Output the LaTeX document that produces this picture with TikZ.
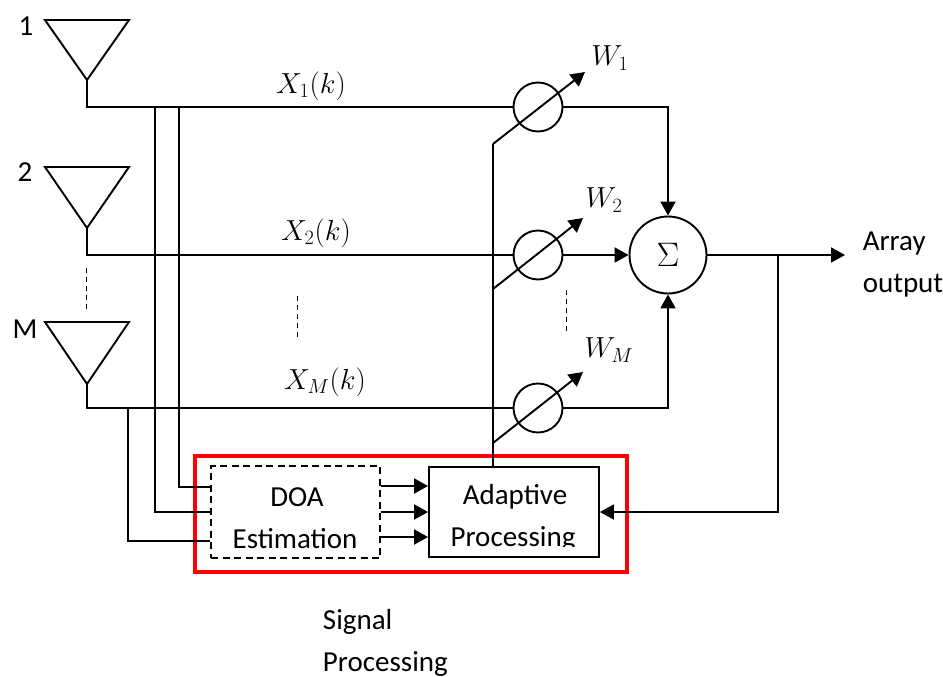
\RequirePackage{fix-cm}
\documentclass[tikz,border=0pt]{standalone}
\usepackage{fontspec}
\setmainfont{Carlito}
\usepackage{tikz}
\usetikzlibrary{arrows.meta}

\begin{document}
\begin{tikzpicture}[x=1pt,y=-1pt,line width=1.9pt,
  tip/.style={-{Triangle[length=14pt,width=15pt]}},
  weight/.style={draw,circle,minimum size=49pt,inner sep=0pt},
  lbl/.style={font=\fontsize{29}{42}\selectfont,inner sep=0pt},
  mathlbl/.style={font=\fontsize{29}{34}\selectfont,inner sep=0pt},
  dots/.style={dashed,line width=1pt,dash pattern=on 5pt off 4pt}]
\useasboundingbox (0,0) rectangle (943,677);

% antennas
\coordinate (a1) at (87,80);
\coordinate (a2) at (87,228);
\coordinate (aM) at (87,384);
\draw[line join=miter] (45,20) -- (129,20) -- (a1) -- cycle;
\draw[line join=miter] (45,167) -- (129,167) -- (a2) -- cycle;
\draw[line join=miter] (45,322) -- (129,322) -- (aM) -- cycle;
\node[lbl] (n1) at (26,26) {1};
\node[lbl] (n2) at (25,172) {2};
\node[lbl] (nM) at (25,329) {M};

% weights and sum
\node[weight] (w1) at (538,107) {};
\node[weight] (w2) at (538,255) {};
\node[weight] (wM) at (538,408) {};
\node[draw,circle,minimum size=77pt,inner sep=0pt,font=\fontsize{34}{40}\selectfont] (sum) at (668,255) {$\Sigma$};

% boxes
\node[draw,dashed,line width=1.4pt,dash pattern=on 7pt off 4.5pt,minimum width=169pt,minimum height=92pt,inner sep=0pt] (doa) at (295.5,512) {};
\node[draw,minimum width=170pt,minimum height=90pt,inner sep=0pt] (adapt) at (514,512) {};
\node[draw=red,line width=3.2pt,minimum width=432pt,minimum height=116pt,inner sep=0pt] (sp) at (411,514) {};
\node[lbl] (doat) at (297,497) {DOA};
\node[lbl] (esti) at (295,539) {Estimation};
\node[lbl] (adat) at (515,497) {Adaptive};
\begin{scope}
\clip (431,470) rectangle (597,546);
\node[lbl] (proc) at (513,539) {Processing};
\end{scope}

% feeds
\coordinate (j1) at (155,107);
\coordinate (j2) at (179,107);
\coordinate (j3) at (128,408);
\path[draw] (a1) |- (w1);
\path[draw] (a2) |- (w2);
\path[draw] (aM) |- (wM);
\path[draw] (j1) |- (doa.west);
\path[draw] (j2) |- ([yshift=25pt]doa.west);
\path[draw] (j3) |- ([yshift=-29pt]doa.west);

% to the sum
\path[draw,tip] (w1) -| (sum.north);
\path[draw,tip] (w2) -- (sum);
\path[draw,tip] (wM) -| (sum.south);

% output and feedback
\coordinate (out) at (845,255);
\coordinate (fb) at (778,255);
\path[draw,tip] (sum) -- (out);
\path[draw,tip] (fb) |- (adapt.east);

% doa to adaptive
\path[draw,tip] ([yshift=26pt]doa.east) -- ([yshift=26pt]adapt.west);
\path[draw,tip] (doa.east) -- (adapt.west);
\path[draw,tip] ([yshift=-25pt]doa.east) -- ([yshift=-25pt]adapt.west);

% control lines
\coordinate (c1) at (493,144);
\coordinate (c2) at (493,289);
\coordinate (cM) at (493,443);
\coordinate (t1) at (585,72);
\coordinate (t2) at (583,218);
\coordinate (tM) at (583,372);
\path[draw] (adapt.north -| c1) -- (c1);
\path[draw,tip] (c1) -- (t1);
\path[draw,tip] (c2) -- (t2);
\path[draw,tip] (cM) -- (tM);

% dashes
\draw[dots] (86,268) -- (86,310);
\draw[dots] (297,296) -- (297,338);
\draw[dots] (566.5,290) -- (566.5,332);

% labels
\node[mathlbl] (x1) at (311,86) {$X_1(k)$};
\node[mathlbl] (x2) at (316,233) {$X_2(k)$};
\node[mathlbl] (xM) at (325,382) {$X_M(k)$};
\node[mathlbl] (l1) at (610,58) {$W_1$};
\node[mathlbl] (l2) at (604,200) {$W_2$};
\node[mathlbl] (lM) at (609,350) {$W_M$};
\node[lbl,align=left] (array) at (903,265) {Array\\output};
\node[lbl,align=left,anchor=west,font=\fontsize{29}{42}\selectfont] (signal) at (322,643) {Signal\\Processing};
\end{tikzpicture}
\end{document}
